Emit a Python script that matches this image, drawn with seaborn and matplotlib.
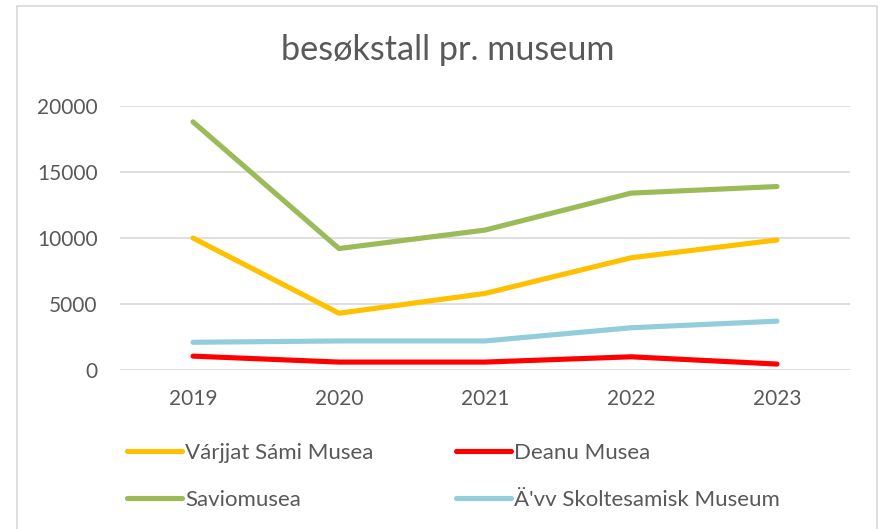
import pandas as pd
import matplotlib.pyplot as plt
import matplotlib.patches as patches
import seaborn as sns

# data
years = ["2019", "2020", "2021", "2022", "2023"]
varjjat = [10000, 4300, 5800, 8500, 9850]
deanu = [1050, 600, 600, 1000, 450]
savio = [18800, 9200, 10600, 13400, 13900]
avv = [2100, 2200, 2200, 3200, 3700]

series = {
    "Várjjat Sámi Musea": varjjat,
    "Deanu Musea": deanu,
    "Saviomusea": savio,
    "Ä'vv Skoltesamisk Museum": avv,
}
colors = ["#FFC000", "#FF0000", "#9BBB59", "#92CDDC"]

rows = []
for name, vals in series.items():
    for yr, v in zip(years, vals):
        rows.append({"år": yr, "besøk": v, "museum": name})
df = pd.DataFrame(rows)

sns.set_style("white")
plt.rcParams["font.family"] = ["Lato", "DejaVu Sans"]
text_col = "#595959"

fig = plt.figure(figsize=(8.79, 5.29), dpi=100)
ax = fig.add_axes([120 / 879, 1 - 370 / 529, 730 / 879, 264 / 529])

sns.lineplot(data=df, x="år", y="besøk", hue="museum", palette=colors,
             linewidth=3.7, ax=ax, legend=True, sort=False)
for ln in ax.lines:
    ln.set_solid_capstyle("round")
    ln.set_solid_joinstyle("round")

ax.set_xlim(-0.5, 4.5)
ax.set_ylim(0, 20000)
ax.set_yticks([0, 5000, 10000, 15000, 20000])
ax.grid(axis="y", color="#D9D9D9", linewidth=1.2)
ax.set_axisbelow(True)
for s in ax.spines.values():
    s.set_visible(False)
ax.tick_params(axis="both", length=0, labelsize=15, labelcolor=text_col)
ax.tick_params(axis="y", pad=16)
ax.tick_params(axis="x", pad=14)
ax.set_xlabel("")
ax.set_ylabel("")

fig.text(448 / 879, 1 - 50 / 529, "besøkstall pr. museum", ha="center", va="center",
         fontsize=24.7, color=text_col)

# legend filled row by row like the reference (matplotlib fills columns)
handles, labels = ax.get_legend_handles_labels()
ax.get_legend().remove()
order = [0, 2, 1, 3]
leg = fig.legend([handles[i] for i in order], [labels[i] for i in order],
                 ncol=2, loc="upper left",
                 bbox_to_anchor=(107 / 879, 1 - 423 / 529), frameon=False,
                 fontsize=16, handlelength=2.48, handletextpad=0.14,
                 columnspacing=3.7, labelspacing=1.2)
for t in leg.get_texts():
    t.set_color(text_col)
for h in leg.get_lines():
    h.set_linewidth(3.7)
    h.set_solid_capstyle("round")

# chart area border
fig.patches.append(patches.Rectangle((17 / 879, -0.01), 860 / 879, 1 - 6 / 529 + 0.01,
                                     transform=fig.transFigure, fill=False,
                                     edgecolor="#D9D9D9", linewidth=1.2))

fig.savefig("out.png", dpi=100)
